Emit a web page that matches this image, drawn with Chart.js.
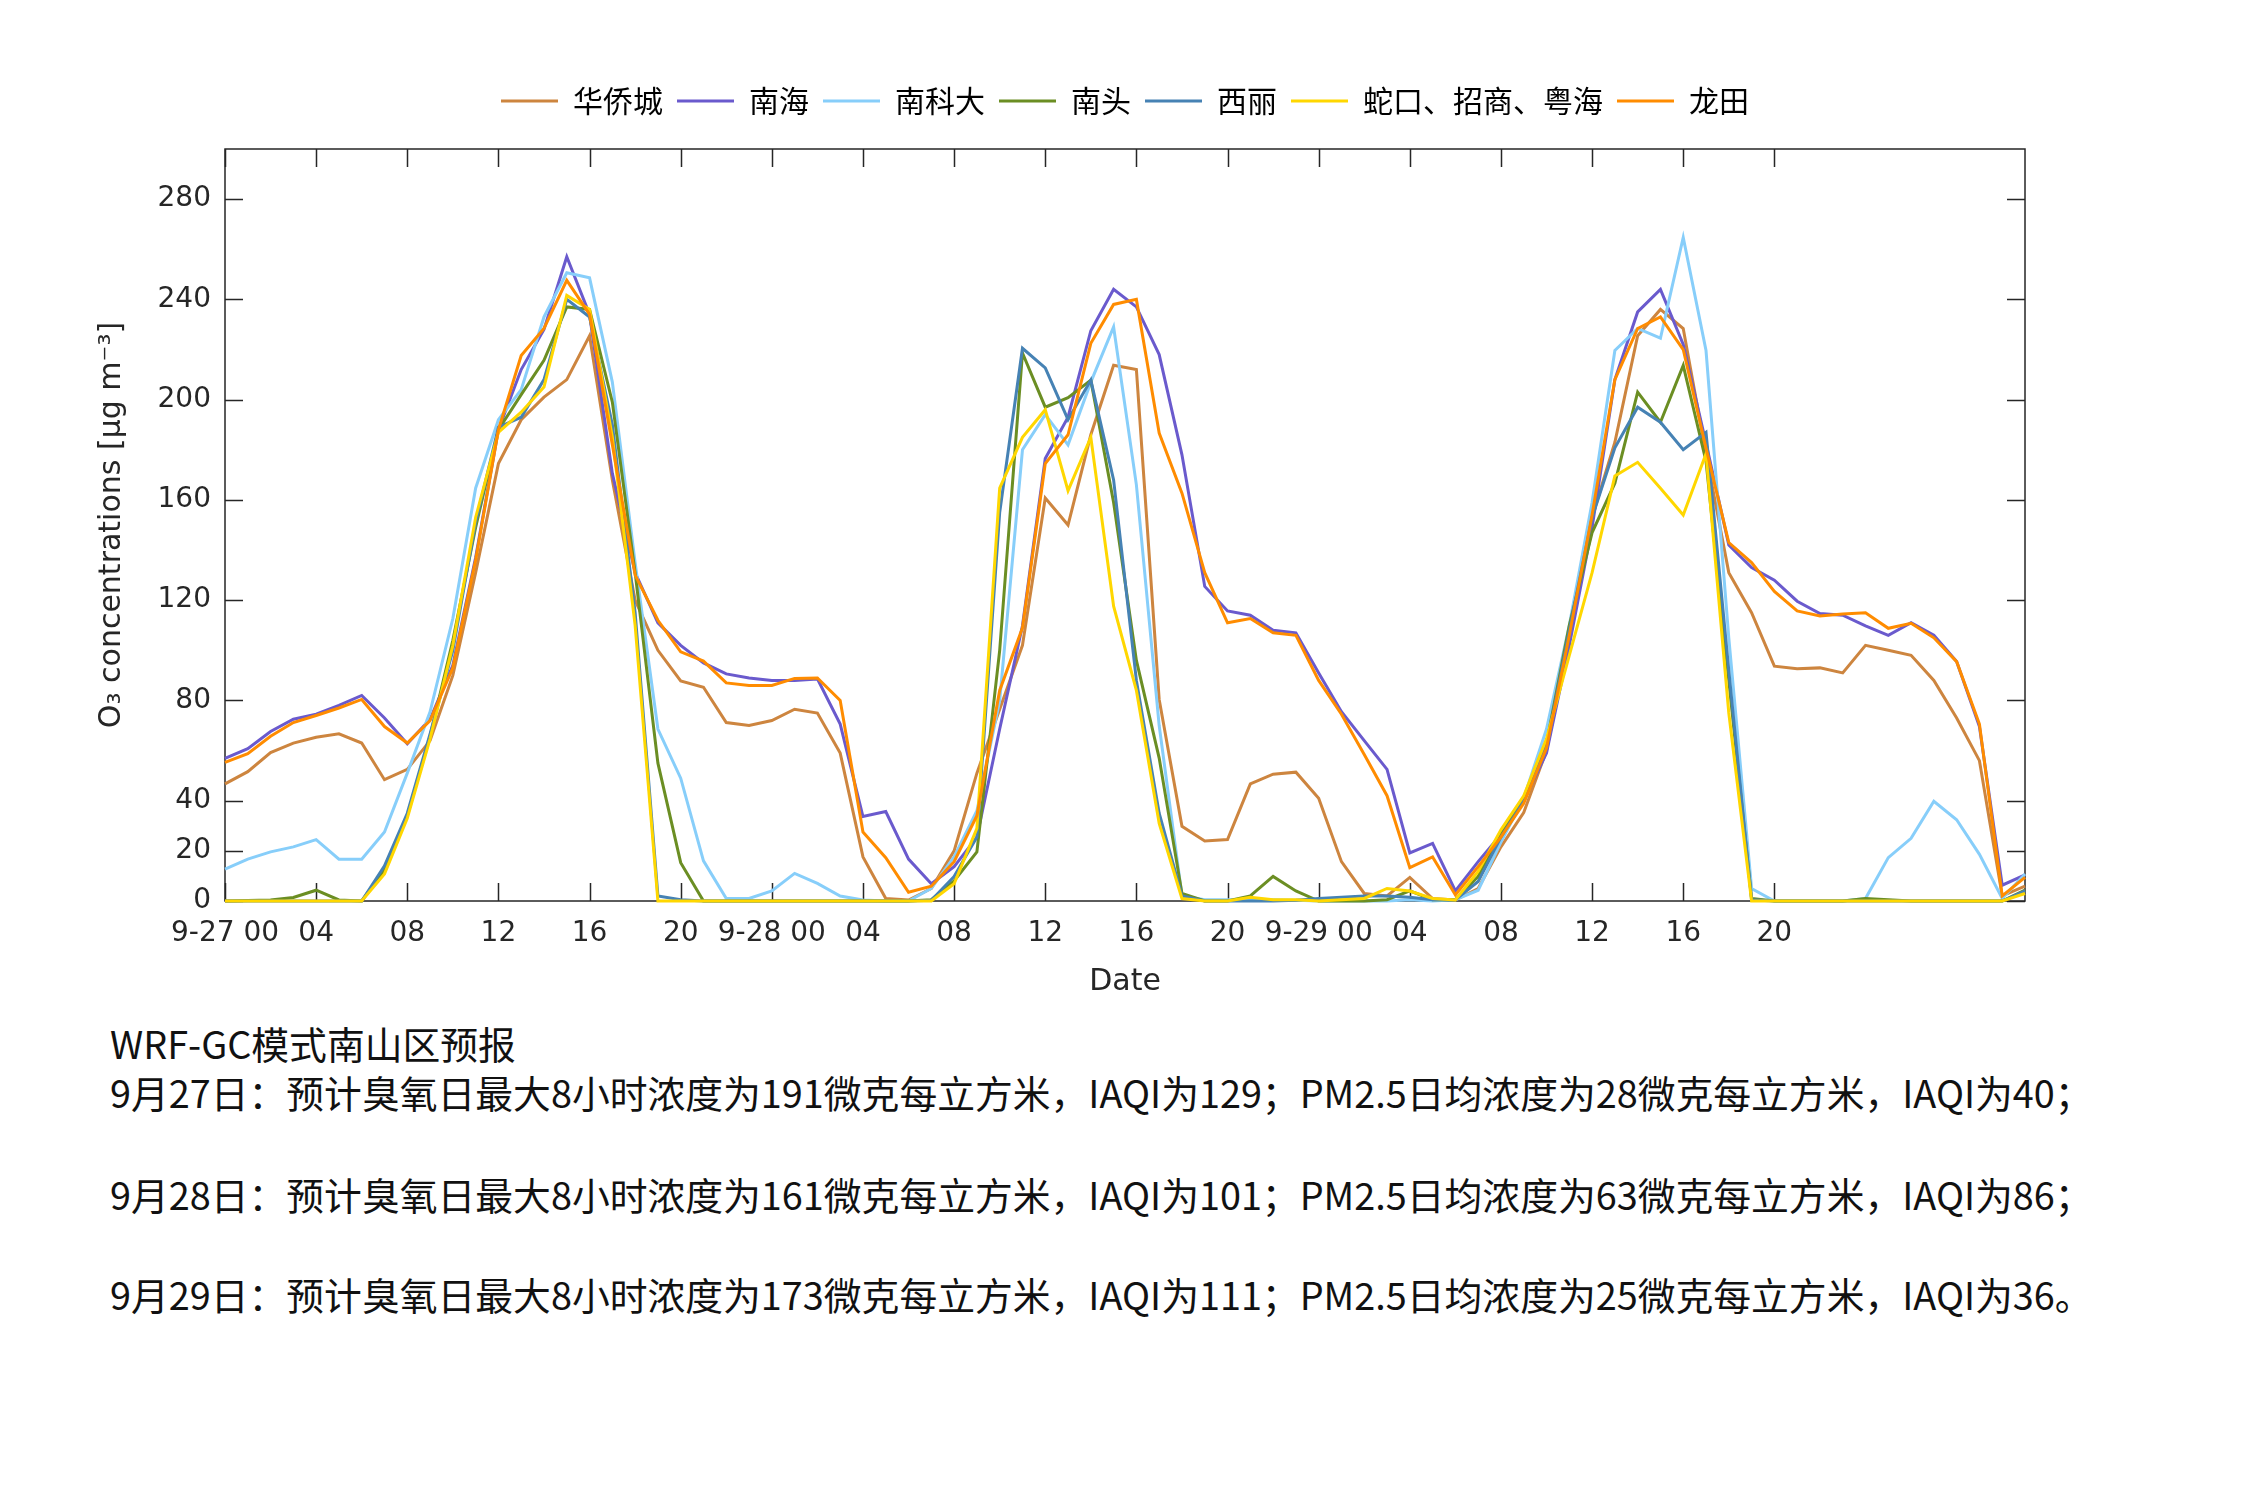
<!DOCTYPE html>
<html>
<head>
<meta charset="utf-8">
<title>WRF-GC 南山区 O3 预报</title>
<script src="https://cdn.jsdelivr.net/npm/chart.js@4.4.1/dist/chart.umd.min.js"></script>
<style>
  body { margin: 0; background: #fff; }
  #wrap { position: absolute; left: 0; top: 0; width: 2250px; height: 1015px; }
  .note { position: absolute; left: 110px; font-family: "Noto Sans CJK SC", sans-serif; font-size: 37.8px; color: #111; white-space: nowrap; line-height: 1; }
</style>
</head>
<body>
<div id="wrap"><canvas id="o3Chart" width="2250" height="1015"></canvas></div>
<div class="note" style="top:1024px">WRF-GC模式南山区预报</div>
<div class="note" style="top:1073px">9月27日：预计臭氧日最大8小时浓度为191微克每立方米，IAQI为129；PM2.5日均浓度为28微克每立方米，IAQI为40；</div>
<div class="note" style="top:1175px">9月28日：预计臭氧日最大8小时浓度为161微克每立方米，IAQI为101；PM2.5日均浓度为63微克每立方米，IAQI为86；</div>
<div class="note" style="top:1275px">9月29日：预计臭氧日最大8小时浓度为173微克每立方米，IAQI为111；PM2.5日均浓度为25微克每立方米，IAQI为36。</div>
<script>
// hours since 9-27 00
var hours = [0,1,2,3,4,5,6,7,8,9,10,11,12,13,14,15,16,17,18,19,
  20,21,22,23,24,25,26,27,28,29,30,31,32,33,34,35,36,37,38,39,
  40,41,42,43,44,45,46,47,48,49,50,51,52,53,54,55,56,57,58,59,
  60,61,62,63,64,65,66,67,68,69,70,71,72,73,74,75,76,77,78,79];

var xTickHours = [0,4,8,12,16,20,24,28,32,36,40,44,48,52,56,60,64,68];
var xTickLabels = ['9-27 00','04','08','12','16','20','9-28 00','04','08','12','16','20',
  '9-29 00','04','08','12','16','20'];
var yTickValues = [0,20,40,80,120,160,200,240,280];

var stations = ['华侨城','南海','南科大','南头','西丽','蛇口、招商、粤海','龙田'];
var colors = ['#CD853F','#6A5ACD','#87CEFA','#6B8E23','#4682B4','#FFD700','#FF8C00'];

var huaqiaocheng = [46.7,51.6,59.2,63,65.3,66.7,63,48.4,52.5,64,
  90,131,174.5,192,201,208,225.5,168,120,100,
  87.8,85.3,71.2,70,72,76.5,75,59,17.6,1,
  0.4,5,20,51,76.5,102,160.8,150,186,213.7,
  212,80.4,29.8,23.9,24.5,46.7,50.6,51.4,41,15.7,
  3,2,9.4,1,0.4,5,21.6,35.3,60,104,
  153,183,225.5,236,228.4,178.4,131,115,93.7,92.7,
  93,91,102,100,98,88,73,56,2,5.9];
var nanhai = [56.9,60.8,67.6,72.5,74.5,78,82,73,62.7,72.5,
  94,137,188,212,228,257,234,170.6,131,111,
  102,95,90.6,89,88,88,88.6,70.6,33.7,35.7,
  16.7,6.9,13.7,25.5,68.6,109.8,176.5,193,227.5,244,
  237,218,178,125.5,115.7,114,108,107,91,75.5,
  64,52.5,19.2,23,4,15.7,26.5,40,59,102,
  149,208,235,244,222,182.7,142,133,128,119.6,
  114.7,114,109.8,106,111,106,95.5,69.6,6.3,10.4];
var nankeda = [12.7,16.7,19.6,21.6,24.5,16.7,16.7,27.5,51,75.5,
  112.7,164.7,192,204,233,250.6,248.6,207,135,68.6,
  49,16,1,1,4,11,7,2,0.4,0,
  0,5,17.6,36,80,180,194,182,207,229,
  166,70,2,0.5,0.5,0.5,0.5,0.3,0,0,
  0,0,0.5,0,0.5,4.3,23.5,41,68.6,110,
  159,219.6,228.4,224.5,264.7,219.6,105,5,0,0,
  0,0,1,17.3,25,39.8,32.4,18.6,1,10.8];
var nantou = [0,0.2,0.4,1.4,4.3,0.4,0,12.5,34,65.7,
  104,149,188,202,215.7,237,236,199,131,55,
  15.3,0,0,0,0,0,0,0,0,0,
  0,0.5,8,19.6,100,218.6,197,200.8,207.8,159,
  96,57,3,0,0,2,9.8,4,0,0,
  0,0.5,4,0.5,0.5,9.8,27.5,41,62.7,110,
  147,166.7,203,191,213.7,175.5,88,1,0,0,
  0,0,1,0.5,0,0,0,0,0,4.3];
var xili = [0,0,0,0,0,0,0,14,35,66.7,
  100,151,189,193,208,240,233,190,115,2,
  0.5,0,0,0,0,0,0,0,0,0,
  0,0.3,9.8,25.5,155,220.5,212.7,192,207.8,168,
  88,35,2,0,0,0,0,0.3,1,1.5,
  2,2,1.5,0.5,0.5,7.8,25.5,40,61.8,108,
  153,180.8,197,191,180,187,92,0.5,0,0,
  0,0,0,0,0,0,0,0,0,4];
var shekou = [0,0,0,0,0,0,0,10.8,33,64.7,
  102,153,187,195,205,241.6,236,185,110,0,
  0,0,0,0,0,0,0,0,0,0,
  0,0,6.9,29,164.7,185,196,163.7,185,117.6,
  84,31,1,0,0,1.5,0.5,0.5,0,0.5,
  1,5,4,1,0.4,11.8,28.4,42,64.7,98,
  131,169.6,175,164.7,154,178.4,75,0,0,0,
  0,0,0,0,0,0,0,0,0,3];
var longtian = [55.3,58.8,65.7,71.2,74,77,80.4,69.6,63,72,
  93,136,188,217.6,228.4,247.6,234,182,130,112,
  99.4,95.7,87,86,86,88.8,89,80,27.5,17.3,
  3.5,5.9,15.7,34,84,109,174.5,186,222.5,238,
  240,186.7,162.7,131,111,112.7,107,106,88,74.5,
  58.4,42,13.3,17.6,2.4,13.7,25.5,39,61,106,
  154,208,228.4,233,220,180.7,143,135,123.5,115.7,
  113.7,114.5,115,108.8,110.8,105,95.5,70.6,2,9.4];

var series = [huaqiaocheng, nanhai, nankeda, nantou, xili, shekou, longtian];

var axisColor = '#262626';
var tickLen = 18;

// box round the plot with inward ticks on all four sides (matlab look)
var boxTicks = {
  id: 'boxTicks',
  beforeDatasetsDraw: function (chart) {
    var ctx = chart.ctx, a = chart.chartArea;
    var x = chart.scales.x, y = chart.scales.y;
    ctx.save();
    ctx.strokeStyle = axisColor;
    ctx.lineWidth = 1.5;
    ctx.strokeRect(a.left, a.top, a.right - a.left, a.bottom - a.top);
    ctx.beginPath();
    x.ticks.forEach(function (t) {
      var px = Math.round(x.getPixelForValue(t.value)) + 0.5;
      ctx.moveTo(px, a.bottom); ctx.lineTo(px, a.bottom - tickLen);
      ctx.moveTo(px, a.top); ctx.lineTo(px, a.top + tickLen);
    });
    y.ticks.forEach(function (t) {
      var py = Math.round(y.getPixelForValue(t.value)) + 0.5;
      ctx.moveTo(a.left, py); ctx.lineTo(a.left + tickLen, py);
      ctx.moveTo(a.right, py); ctx.lineTo(a.right - tickLen, py);
    });
    ctx.stroke();
    ctx.restore();
  }
};

// extra space under the legend, and centre it over the plot area
var legendGap = {
  id: 'legendGap',
  beforeInit: function (chart) {
    var fit = chart.legend.fit;
    chart.legend.fit = function () {
      fit.bind(chart.legend)();
      this.height += 23;
    };
  },
  afterLayout: function (chart) {
    var lg = chart.legend, a = chart.chartArea;
    var shift = (a.left + a.right) / 2 - (lg.left + lg.right) / 2;
    lg.left += shift;
    lg.right += shift;
  }
};

var ctx = document.getElementById('o3Chart');

var o3 = new Chart(ctx, {
  type: 'line',
  data: {
    labels: hours,
    datasets: stations.map(function (name, i) {
      return {
        label: name,
        data: series[i],
        borderColor: colors[i],
        backgroundColor: colors[i],
        borderWidth: 3,
        pointRadius: 0,
        tension: 0,
        clip: false,
        order: stations.length - i
      };
    })
  },
  plugins: [boxTicks, legendGap],
  options: {
    responsive: false,
    devicePixelRatio: 1,
    animation: false,
    layout: { padding: { top: 72, left: 90, right: 225, bottom: 0 } },
    plugins: {
      tooltip: { enabled: false },
      legend: {
        position: 'top',
        labels: {
          usePointStyle: true,
          pointStyle: 'line',
          pointStyleWidth: 57,
          padding: 14,
          color: '#000',
          font: { family: '"Noto Sans CJK SC", sans-serif', size: 30 },
          sort: function (a, b) { return a.datasetIndex - b.datasetIndex; }
        }
      }
    },
    scales: {
      x: {
        type: 'linear',
        min: 0,
        max: 79,
        grid: { display: false, drawTicks: false },
        border: { display: false },
        afterBuildTicks: function (scale) {
          scale.ticks = xTickHours.map(function (v) { return { value: v }; });
        },
        afterFit: function (scale) { scale.height = 1015 - 901; },
        ticks: {
          autoSkip: false,
          maxRotation: 0,
          padding: 16,
          color: axisColor,
          font: { family: '"DejaVu Sans", sans-serif', size: 28 },
          callback: function (v) { return xTickLabels[xTickHours.indexOf(v)]; }
        },
        title: {
          display: true,
          text: 'Date',
          color: axisColor,
          font: { family: '"DejaVu Sans", sans-serif', size: 30 },
          padding: { top: 0, bottom: 15 }
        }
      },
      y: {
        min: 0,
        max: 300,
        grid: { display: false, drawTicks: false },
        border: { display: false },
        afterBuildTicks: function (scale) {
          scale.ticks = yTickValues.map(function (v) { return { value: v }; });
        },
        afterFit: function (scale) { scale.width = 225 - 90; },
        ticks: {
          padding: 14,
          color: axisColor,
          font: { family: '"DejaVu Sans", sans-serif', size: 28 }
        },
        title: {
          display: true,
          text: 'O₃ concentrations [μg m⁻³]',
          color: axisColor,
          font: { family: '"DejaVu Sans", sans-serif', size: 30 },
          padding: { top: 4, bottom: 0 }
        }
      }
    }
  }
});
</script>
</body>
</html>
